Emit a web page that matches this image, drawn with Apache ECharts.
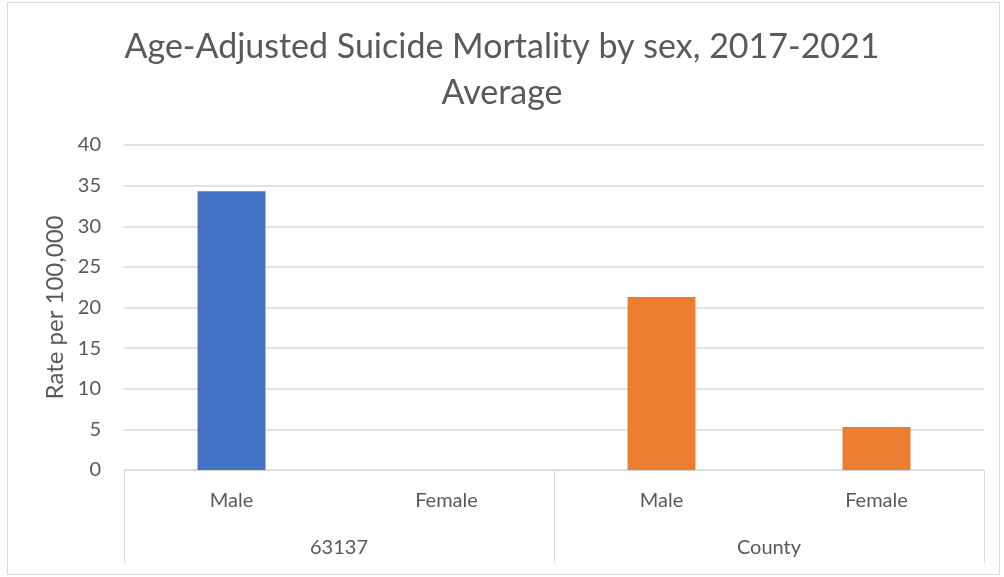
<!DOCTYPE html>
<html>
<head>
<meta charset="utf-8">
<script src="https://cdn.jsdelivr.net/npm/echarts@6/dist/echarts.min.js"></script>
<style>
  html, body { margin: 0; padding: 0; background: #fff; }
  #chart { width: 1004px; height: 577px; }
</style>
</head>
<body>
<div id="chart"></div>
<script>
// categories (inner level: sex, outer level: area)
const sexLabels = ['Male', 'Female', 'Male', 'Female']
const groupLabels = ['63137', 'County']
const groupOfBar = [0, 0, 1, 1]
const rates = [34.3, 0, 21.3, 5.3]
const groupColors = ['#4472C4', '#ED7D31']
const yTicks = { min: 0, max: 40, interval: 5 }

const textColor = '#595959'
const lineColor = '#d9d9d9'
const font = 'Lato, "Open Sans", sans-serif'

const chart = echarts.init(document.getElementById('chart'))

const option = {
  animation: false,
  backgroundColor: '#fff',
  title: {
    text: 'Age-Adjusted Suicide Mortality by sex, 2017-2021\nAverage',
    left: 'center',
    top: 19,
    textStyle: {
      fontFamily: font,
      fontWeight: 'normal',
      fontSize: 34,
      color: textColor,
      lineHeight: 46,
    },
  },
  graphic: [
    {
      type: 'rect',
      shape: { x: 7.5, y: 2.5, width: 992, height: 572 },
      style: { fill: 'none', stroke: lineColor, lineWidth: 1 },
      silent: true,
    },
  ],
  grid: { left: 124, right: 20, top: 145, bottom: 107 },
  xAxis: [
    {
      type: 'category',
      data: sexLabels,
      position: 'bottom',
      axisLine: { lineStyle: { color: lineColor, width: 1 } },
      axisTick: { show: false },
      axisLabel: { color: textColor, fontSize: 20, fontFamily: font, margin: 21 },
    },
    {
      type: 'category',
      data: groupLabels,
      position: 'bottom',
      axisLine: { show: false },
      axisTick: { show: true, length: 93, lineStyle: { color: lineColor, width: 1 } },
      axisLabel: { color: textColor, fontSize: 20, fontFamily: font, margin: 68 },
    },
  ],
  yAxis: {
    type: 'value',
    min: yTicks.min,
    max: yTicks.max,
    interval: yTicks.interval,
    name: 'Rate per 100,000',
    nameLocation: 'middle',
    nameGap: 56,
    nameTextStyle: { color: textColor, fontSize: 24, fontFamily: font },
    axisLine: { show: false },
    axisTick: { show: false },
    axisLabel: { color: textColor, fontSize: 20, fontFamily: font, margin: 23 },
    splitLine: { lineStyle: { color: lineColor, width: 1.5 } },
  },
  series: [
    {
      type: 'bar',
      xAxisIndex: 0,
      barWidth: '31.6%',
      data: rates.map((v, i) => ({
        value: v,
        itemStyle: { color: groupColors[groupOfBar[i]] },
      })),
    },
  ],
}

chart.setOption(option)
</script>
</body>
</html>
